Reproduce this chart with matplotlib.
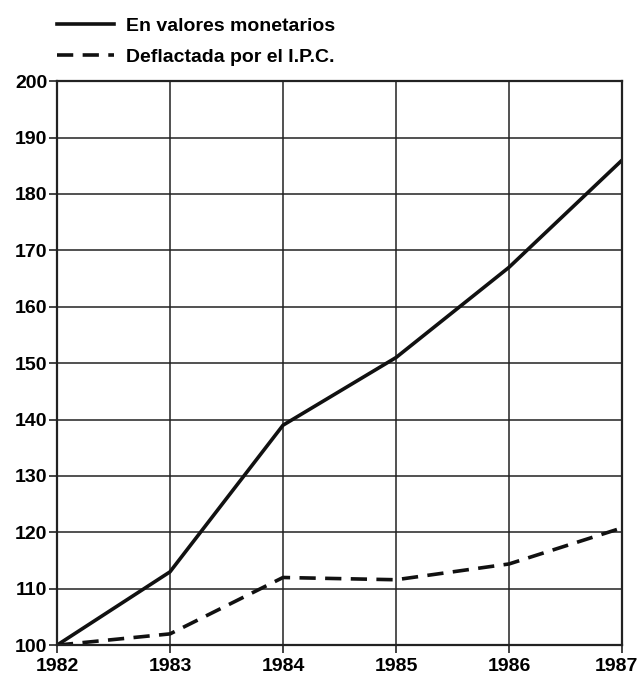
import matplotlib.pyplot as plt
from matplotlib.transforms import ScaledTranslation

years = [1982, 1983, 1984, 1985, 1986, 1987]
monetarios = [100, 113, 139, 151, 167, 186]
deflactada = [100, 102, 112, 111.6, 114.4, 120.8]

plt.rcParams['font.family'] = ['Liberation Sans', 'DejaVu Sans']
plt.rcParams['font.weight'] = 'bold'

fig = plt.figure(figsize=(6.4, 6.82), dpi=100)
ax = fig.add_axes([0.089, 0.054, 0.883, 0.827])

ax.plot(years, monetarios, color='#111111', lw=2.6, label='En valores monetarios')
ax.plot(years, deflactada, color='#111111', lw=2.6, dashes=(4.5, 2.6),
        label='Deflactada por el I.P.C.')

ax.set_xlim(1982, 1987)
ax.set_ylim(100, 200)
ax.set_xticks(years)
ax.set_yticks(range(100, 201, 10))
ax.grid(True, color='#222222', lw=1.1)
for s in ax.spines.values():
    s.set_linewidth(1.6)
    s.set_color('#222222')
ax.tick_params(axis='both', labelsize=14, length=6, width=1.2, color='#222222')
ax.tick_params(axis='x', pad=3)
ax.tick_params(axis='y', pad=1)
for lab in ax.get_xticklabels() + ax.get_yticklabels():
    lab.set_fontweight('heavy')

# el último año queda pegado al borde; se corre un poco a la izquierda
last = ax.get_xticklabels()[-1]
last.set_transform(last.get_transform() + ScaledTranslation(-4 / 72, 0, fig.dpi_scale_trans))

fig.legend(loc='upper left', bbox_to_anchor=(0.062, 1.0), frameon=False,
           handlelength=2.9, handletextpad=0.65, labelspacing=0.68,
           prop={'weight': 'heavy', 'size': 14})

fig.savefig('out.png', dpi=100)
